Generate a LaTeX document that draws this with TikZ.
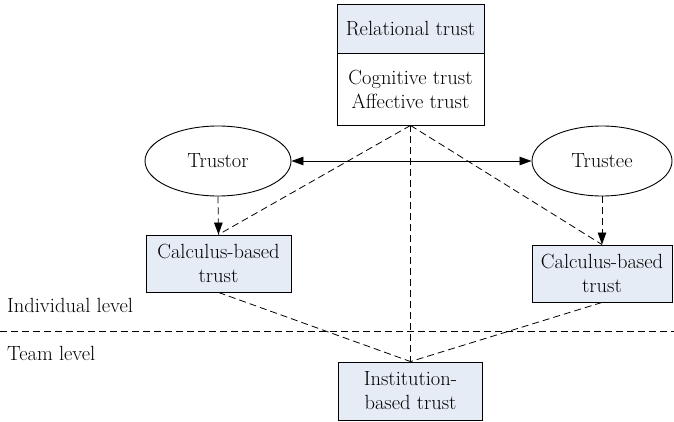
\documentclass[tikz,border=0pt]{standalone}
\usepackage{fontspec}
\usetikzlibrary{shapes.geometric,arrows.meta}
\definecolor{boxfill}{RGB}{230,236,246}
\tikzset{
  every node/.style={font=\fontsize{20.5}{24}\selectfont, inner sep=0pt},
  box/.style={draw, line width=0.9pt, align=center},
  shaded/.style={box, fill=boxfill},
  oval/.style={draw, ellipse, line width=0.9pt},
  dline/.style={dash pattern=on 7pt off 4pt, line width=0.8pt},
  head/.tip={Triangle[length=12pt,width=8.5pt]},
  tip/.style={-head},
  label/.style={anchor=west}
}
\begin{document}
\begin{tikzpicture}[x=1pt,y=-1pt]
  \useasboundingbox (0,0) rectangle (674,422);

  % relational trust block
  \node[shaded, minimum width=147, minimum height=49] (relh) at (410.5,28.5) {Relational trust};
  \node[box, minimum width=147, minimum height=72] (relb) at (410.5,89) {Cognitive trust\\Affective trust};

  % actors
  \node[oval, minimum width=146, minimum height=70] (trustor) at (218,161) {Trustor};
  \node[oval, minimum width=140, minimum height=70] (trustee) at (602,161) {Trustee};

  % calculus-based trust boxes
  \node[shaded, minimum width=145, minimum height=57] (calcl) at (218.5,263.5) {Calculus-based\\trust};
  \node[shaded, minimum width=140, minimum height=57] (calcr) at (602,273.5) {Calculus-based\\trust};

  % institution-based trust
  \node[shaded, minimum width=144, minimum height=58] (inst) at (410.5,391) {Institution-\\based trust};

  % level separator
  \coordinate (sepl) at (0,331);
  \coordinate (sepr) at (674,331);
  \draw[dline] (sepl) -- (sepr);
  \node[label] (indiv) at (7,305) {Individual level};
  \node[label] (team) at (7,353) {Team level};

  % connectors
  \draw[line width=0.8pt, head-head] (trustor.east) -- (trustee.west);
  \draw[dline, tip] (trustor.south) -- (calcl.north);
  \draw[dline, tip] (trustee.south) -- (calcr.north);
  \draw[dline] (relb.south) -- (calcl.north);
  \draw[dline] (relb.south) -- (calcr.north);
  \draw[dline] (relb.south) -- (inst.north);
  \draw[dline] (calcl.south) -- (inst.north);
  \draw[dline] (calcr.south) -- (inst.north);
\end{tikzpicture}
\end{document}
